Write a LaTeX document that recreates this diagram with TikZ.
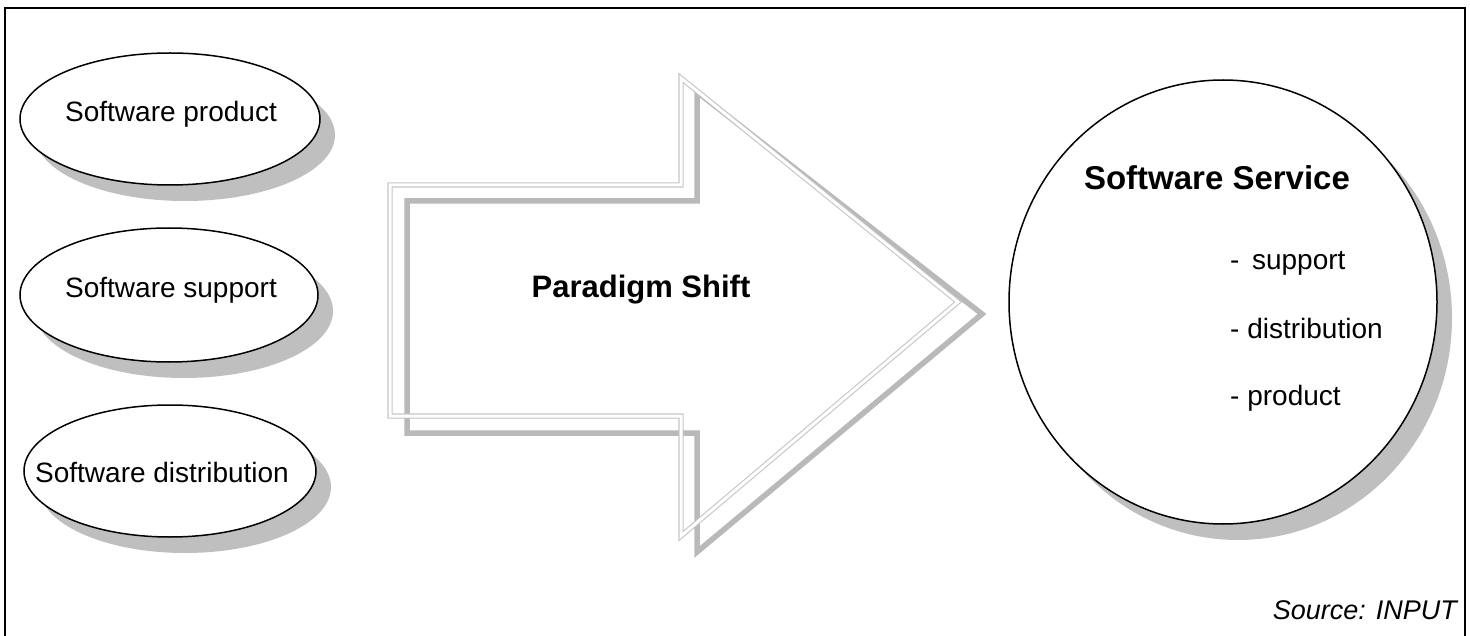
\documentclass[tikz,border=0pt]{standalone}
\usepackage{fontspec}
\setmainfont{Liberation Sans}
\usetikzlibrary{shapes.geometric,shadows}
\begin{document}
\begin{tikzpicture}[x=1pt,y=-1pt,
  oval/.style={ellipse, draw=black, line width=1.5pt, fill=white, inner sep=0pt,
    general shadow={fill=gray!50, shadow xshift=15pt, shadow yshift=-16pt}},
  lbl/.style={anchor=base, inner sep=0pt, font=\fontsize{28}{32}\selectfont},
  lblb/.style={anchor=base, inner sep=0pt, font=\fontsize{31}{36}\selectfont\bfseries},
  arrowlight/.style={draw=gray!45, double=white, double distance=3pt, line width=1.1pt, line join=miter},
  arrowdark/.style={draw=gray!55, line width=5.5pt, line join=miter}
]
\useasboundingbox (0,0) rectangle (1470,636);
\fill[white] (0,0) rectangle (1470,636);
% frame
\draw[line width=2pt] (5,645) -- (5,8) -- (1465,8) -- (1465,645);

% left ellipses
\node[oval, minimum width=300pt, minimum height=132pt] (e1) at (170,119) {};
\node[lbl] (t1) at (171,122) {Software product};
\node[oval, minimum width=298pt, minimum height=134pt] (e2) at (169,295) {};
\node[lbl] (t2) at (171,298) {Software support};
\node[oval, minimum width=292pt, minimum height=132pt] (e3) at (170,471) {};
\node[lbl] (t3) at (162,482) {Software distribution};

% paradigm shift arrow (outline shadow + light double outline)
\draw[arrowdark] (407,201) -- (697,201) -- (697,92) -- (982,314) -- (697,552) -- (697,433) -- (407,433) -- cycle;
\draw[arrowlight] (390,185) -- (681,185) -- (681,78) -- (958,302) -- (681,536) -- (681,416) -- (390,416) -- cycle;
\node[lblb] (ps) at (641,298) {Paradigm Shift};

% software service circle
\node[oval, minimum width=428pt, minimum height=444pt] (svc) at (1223,302) {};
\node[lblb, font=\fontsize{33}{38}\selectfont\bfseries] (svct) at (1217,190) {Software Service};
\node[lbl, anchor=base west] (s1) at (1230,270) {-\hspace{0.45em}support};
\node[lbl, anchor=base west] (s2) at (1230,338) {- distribution};
\node[lbl, anchor=base west] (s3) at (1230,405) {- product};

% source
\node[lbl, anchor=base east, font=\fontsize{27}{32}\selectfont\itshape] (src) at (1457,619) {Source: INPUT};
\end{tikzpicture}
\end{document}
